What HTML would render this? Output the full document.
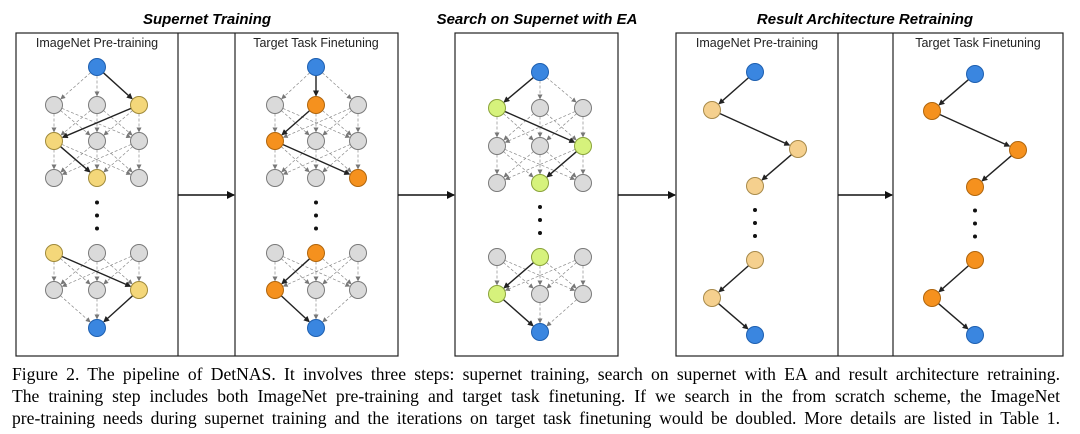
<!DOCTYPE html>
<html><head><meta charset="utf-8"><style>
body{margin:0;background:#fff;width:1080px;height:434px;overflow:hidden;position:relative;font-family:"Liberation Sans",sans-serif}
.t{position:absolute;font-weight:bold;font-style:italic;font-size:15px;top:11px;white-space:nowrap;transform:translateX(-50%)}
.cap{position:absolute;left:12px;width:1048px;font-family:"Liberation Serif",serif;font-size:17.6px;text-align:justify;text-align-last:justify;white-space:nowrap;line-height:20px}
</style></head><body>
<div class="t" style="left:207px">Supernet Training</div>
<div class="t" style="left:537px">Search on Supernet with EA</div>
<div class="t" style="left:865px">Result Architecture Retraining</div>
<svg id="s" width="1080" height="360" style="position:absolute;left:0;top:0">
<defs>
<marker id="a" markerWidth="8" markerHeight="8" refX="7" refY="4" orient="auto" markerUnits="userSpaceOnUse"><path d="M0,0 L8,4 L0,8z" fill="#111"/></marker>
<marker id="b" markerWidth="6" markerHeight="6" refX="5" refY="3" orient="auto" markerUnits="userSpaceOnUse"><path d="M0,0 L6,3 L0,6z" fill="#222"/></marker>
<marker id="c" markerWidth="5" markerHeight="5" refX="4" refY="2.5" orient="auto" markerUnits="userSpaceOnUse"><path d="M0,0 L5,2.5 L0,5z" fill="#777"/></marker>
</defs>
<g fill="none" stroke="#222" stroke-width="1.2">
<rect x="16" y="33" width="382" height="323"/><line x1="178" y1="33" x2="178" y2="356"/><line x1="235" y1="33" x2="235" y2="356"/>
<rect x="455" y="33" width="163" height="323"/>
<rect x="676" y="33" width="387" height="323"/><line x1="838" y1="33" x2="838" y2="356"/><line x1="893" y1="33" x2="893" y2="356"/>
</g>
<g stroke="#111" stroke-width="1.5" marker-end="url(#a)">
<line x1="178" y1="195" x2="234" y2="195"/><line x1="398" y1="195" x2="454" y2="195"/><line x1="618" y1="195" x2="675" y2="195"/><line x1="838" y1="195" x2="892" y2="195"/>
</g>
<g font-size="12.5" fill="#222" text-anchor="middle" font-family="Liberation Sans,sans-serif">
<text x="97" y="47">ImageNet Pre-training</text>
<text x="316" y="47">Target Task Finetuning</text>
<text x="757" y="47">ImageNet Pre-training</text>
<text x="978" y="47">Target Task Finetuning</text>
</g>
<g id="g"></g>
</svg>
<div class="cap" style="top:364px">Figure 2. The pipeline of DetNAS. It involves three steps: supernet training, search on supernet with EA and result architecture retraining.</div>
<div class="cap" style="top:386px">The training step includes both ImageNet pre-training and target task finetuning. If we search in the from scratch scheme, the ImageNet</div>
<div class="cap" style="top:408px">pre-training needs during supernet training and the iterations on target task finetuning would be doubled. More details are listed in Table 1.</div>
<script>
const NS="http://www.w3.org/2000/svg",G=document.getElementById('g');
const R=8.5;
const col={B:["#3a86e0","#1d5fb0"],g:["#dadada","#7a7a7a"],Y:["#f4d77a","#a08a3a"],O:["#f5911e","#b0650c"],L:["#f5d08e","#a88a4a"],N:["#d6f27c","#8aa33a"]};
function el(t,a){const e=document.createElementNS(NS,t);for(const k in a)e.setAttribute(k,a[k]);G.appendChild(e);return e}
function edge(p,q,bold){const dx=q[0]-p[0],dy=q[1]-p[1],d=Math.hypot(dx,dy),ux=dx/d,uy=dy/d;
 el('line',{x1:p[0]+ux*R,y1:p[1]+uy*R,x2:q[0]-ux*(R+1),y2:q[1]-uy*(R+1),stroke:bold?"#222":"#8a8a8a","stroke-width":bold?1.4:0.7,"stroke-dasharray":bold?"":"3,2","marker-end":bold?"url(#b)":"url(#c)"});}
function node(p,c){el('circle',{cx:p[0],cy:p[1],r:R,fill:col[c][0],stroke:col[c][1],"stroke-width":1});}
function dots(x,y){for(let i=0;i<3;i++)el('circle',{cx:x,cy:y+i*13,r:2,fill:"#111"});}
function grid(xs,top,rows,brows,bot,cr,cb,C){
 const T=[xs[1],top],Bt=[xs[1],bot];
 const P=rows.map(y=>xs.map(x=>[x,y])),Q=brows.map(y=>xs.map(x=>[x,y]));
 for(let i=0;i<3;i++)edge(T,P[0][i],false);
 for(let r=0;r<2;r++)for(let i=0;i<3;i++)for(let j=0;j<3;j++)edge(P[r][i],P[r+1][j],false);
 for(let i=0;i<3;i++)for(let j=0;j<3;j++)edge(Q[0][i],Q[1][j],false);
 for(let i=0;i<3;i++)edge(Q[1][i],Bt,false);
 let prev=T;cr.forEach((c,r)=>{edge(prev,P[r][c],true);prev=P[r][c];});
 edge(Q[0][cb[0]],Q[1][cb[1]],true);edge(Q[1][cb[1]],Bt,true);
 node(T,'B');node(Bt,'B');
 P.forEach((row,r)=>row.forEach((p,i)=>node(p,i===cr[r]?C:'g')));
 Q.forEach((row,r)=>row.forEach((p,i)=>node(p,i===cb[r]?C:'g')));
 dots(xs[1],(rows[2]+brows[0])/2-13);
}
grid([54,97,139],67,[105,141,178],[253,290],328,[2,0,1],[0,2],'Y');
grid([275,316,358],67,[105,141,178],[253,290],328,[1,0,2],[1,0],'O');
grid([497,540,583],72,[108,146,183],[257,294],332,[0,2,1],[1,0],'N');
function chain(pts,C){for(let i=0;i<pts.length-1;i++){if(i===3)continue;edge(pts[i],pts[i+1],true);}
 pts.forEach((p,i)=>node(p,(i===0||i===pts.length-1)?'B':C));dots(pts[3][0],(pts[3][1]+pts[4][1])/2-13);}
chain([[755,72],[712,110],[798,149],[755,186],[755,260],[712,298],[755,335]],'L');
chain([[975,74],[932,111],[1018,150],[975,187],[975,260],[932,298],[975,335]],'O');
</script>
</body></html>
